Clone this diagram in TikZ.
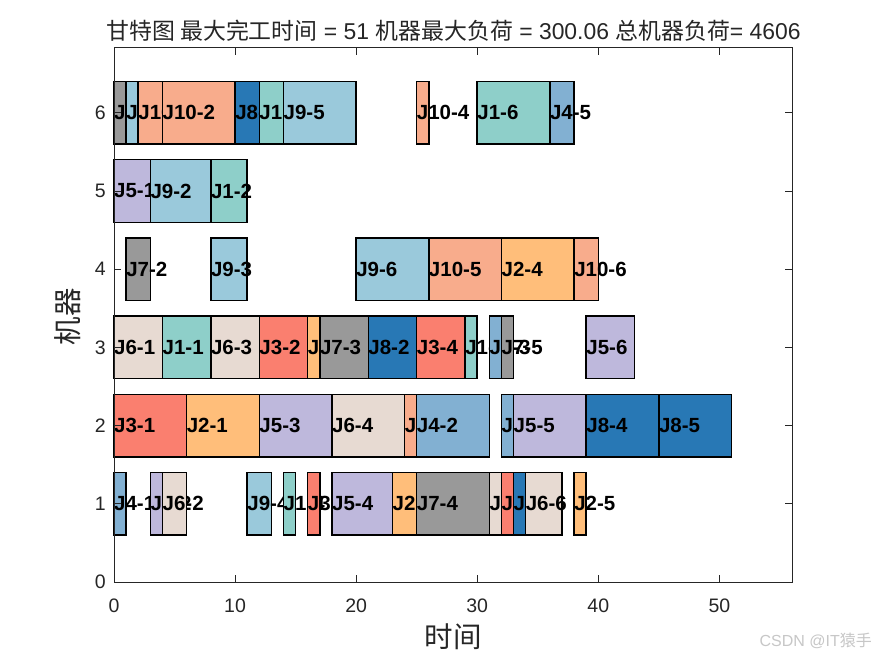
\documentclass[tikz,border=0pt]{standalone}
\usepackage{fontspec}
\setmainfont{Liberation Sans}
\newfontfamily\cjk{Noto Sans CJK SC}
\definecolor{jA}{HTML}{8ECFC9}
\definecolor{jB}{HTML}{FFBE7A}
\definecolor{jC}{HTML}{FA7F6F}
\definecolor{jD}{HTML}{82B0D2}
\definecolor{jE}{HTML}{BEB8DC}
\definecolor{jF}{HTML}{E7DAD2}
\definecolor{jG}{HTML}{999999}
\definecolor{jH}{HTML}{2878B5}
\definecolor{jI}{HTML}{9AC9DB}
\definecolor{jJ}{HTML}{F8AC8C}
\definecolor{axc}{HTML}{262626}
\tikzset{
  barbox/.style={draw=black,line width=1.5pt},
  joblabel/.style={anchor=west,inner sep=0pt,text=black,font=\fontsize{20.5}{21}\selectfont\bfseries},
  axisline/.style={draw=axc,line width=0.8pt},
  ticklabel/.style={text=axc,inner sep=0pt,font=\fontsize{19.5}{20}\selectfont},
  biglabel/.style={text=axc,inner sep=0pt,font=\fontsize{28.5}{30}\selectfont\cjk},
}
% start, end, machine, colour, job-op label (order of calls is the stacking order)
\newcommand{\jobbar}[5]{%
  \path[barbox,fill=#4] (#1,#3-0.4) rectangle (#2,#3+0.4);
  \node[joblabel] (l#5) at (#1,#3) {J#5};
}
\begin{document}
\begin{tikzpicture}[x=1pt,y=1pt]
\useasboundingbox (0,0) rectangle (875,656);
\fill[white] (0,0) rectangle (875,656);
\begin{scope}[shift={(114,74)},x=12.107pt,y=78.2pt]
% machine 1
\jobbar{0}{1}{1}{jD}{4-1}
\jobbar{3}{4}{1}{jE}{5-2}
\jobbar{4}{6}{1}{jF}{6-2}
\jobbar{11}{13}{1}{jI}{9-4}
\jobbar{14}{15}{1}{jA}{1-4}
\jobbar{16}{17}{1}{jC}{3-3}
\jobbar{18}{23}{1}{jE}{5-4}
\jobbar{23}{25}{1}{jB}{2-3}
\jobbar{25}{31}{1}{jG}{7-4}
\jobbar{31}{32}{1}{jF}{6-5}
\jobbar{32}{33}{1}{jC}{3-5}
\jobbar{33}{34}{1}{jH}{8-3}
\jobbar{34}{37}{1}{jF}{6-6}
\jobbar{38}{39}{1}{jB}{2-5}
% machine 2
\jobbar{0}{6}{2}{jC}{3-1}
\jobbar{6}{12}{2}{jB}{2-1}
\jobbar{12}{18}{2}{jE}{5-3}
\jobbar{18}{24}{2}{jF}{6-4}
\jobbar{24}{25}{2}{jJ}{10-3}
\jobbar{25}{31}{2}{jD}{4-2}
\jobbar{32}{33}{2}{jD}{4-4}
\jobbar{33}{39}{2}{jE}{5-5}
\jobbar{39}{45}{2}{jH}{8-4}
\jobbar{45}{51}{2}{jH}{8-5}
% machine 3
\jobbar{0}{4}{3}{jF}{6-1}
\jobbar{4}{8}{3}{jA}{1-1}
\jobbar{8}{12}{3}{jF}{6-3}
\jobbar{12}{16}{3}{jC}{3-2}
\jobbar{16}{17}{3}{jB}{2-2}
\jobbar{17}{21}{3}{jG}{7-3}
\jobbar{21}{25}{3}{jH}{8-2}
\jobbar{25}{29}{3}{jC}{3-4}
\jobbar{29}{30}{3}{jA}{1-5}
\jobbar{31}{32}{3}{jD}{4-3}
\jobbar{32}{33}{3}{jG}{7-5}
\jobbar{39}{43}{3}{jE}{5-6}
% machine 4
\jobbar{1}{3}{4}{jG}{7-2}
\jobbar{8}{11}{4}{jI}{9-3}
\jobbar{20}{26}{4}{jI}{9-6}
\jobbar{26}{32}{4}{jJ}{10-5}
\jobbar{32}{38}{4}{jB}{2-4}
\jobbar{38}{40}{4}{jJ}{10-6}
% machine 5
\jobbar{0}{3}{5}{jE}{5-1}
\jobbar{3}{8}{5}{jI}{9-2}
\jobbar{8}{11}{5}{jA}{1-2}
% machine 6
\jobbar{0}{1}{6}{jG}{7-1}
\jobbar{1}{2}{6}{jI}{9-1}
\jobbar{2}{4}{6}{jJ}{10-1}
\jobbar{4}{10}{6}{jJ}{10-2}
\jobbar{10}{12}{6}{jH}{8-1}
\jobbar{12}{14}{6}{jA}{1-3}
\jobbar{14}{20}{6}{jI}{9-5}
\jobbar{25}{26}{6}{jJ}{10-4}
\jobbar{30}{36}{6}{jA}{1-6}
\jobbar{36}{38}{6}{jD}{4-5}
% axes
\path[axisline] (0,0) rectangle (56,6.83);
\foreach \t in {0,10,...,50}{
  \path[axisline,line width=0.6pt] (\t,0) -- ++(0,6.7pt);
  \path[axisline,line width=0.6pt] (\t,6.83) -- ++(0,-6.7pt);
  \node[ticklabel] (xt\t) at (\t,-24pt) {\t};
}
\foreach \t in {0,...,6}{
  \path[axisline,line width=0.6pt] (0,\t) -- ++(6.7pt,0);
  \path[axisline,line width=0.6pt] (56,\t) -- ++(-6.7pt,0);
  \node[ticklabel,anchor=east] (yt\t) at (-8pt,\t) {\t};
}
\end{scope}
\node[text=axc,inner sep=0pt,font=\fontsize{22.9}{24}\selectfont] (title) at (453.5,625)
  {{\cjk 甘特图 最大完工时间} = 51 {\cjk 机器最大负荷} = 300.06 {\cjk 总机器负荷}= 4606};
\node[biglabel] (xlab) at (453,19) {时间};
\node[biglabel,rotate=90] (ylab) at (68,339) {机器};
\node[anchor=east,inner sep=0pt,text=black!22,font=\fontsize{16}{17}\selectfont] (mark) at (872,15) {CSDN @IT{\cjk 猿手}};
\end{tikzpicture}
\end{document}
